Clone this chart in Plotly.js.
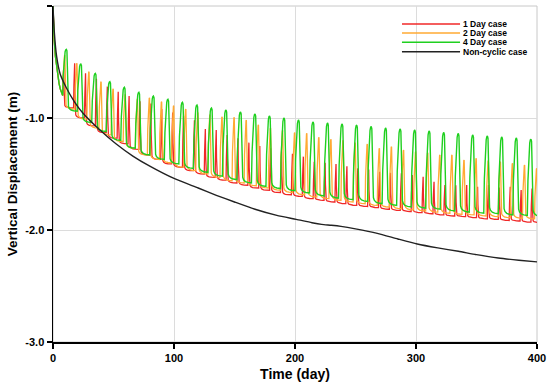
<!DOCTYPE html>
<html>
<head>
<meta charset="utf-8">
<script src="https://cdn.plot.ly/plotly-3.0.1.min.js"></script>
<style>html,body{margin:0;padding:0;background:#fff;}#chart{width:550px;height:388px;}</style>
</head>
<body>
<div id="chart"></div>
<script>
// ---------------- DATA ----------------
const seriesNames = ['1 Day case', '2 Day case', '4 Day case', 'Non-cyclic case'];
const xTickVals = [0, 100, 200, 300, 400];
const yTickVals = [0, -1, -2, -3];
const yTickText = ['0.0', '-1.0', '-2.0', '-3.0'];

// common first loading stage of the cyclic cases (day, displacement)
const startDays = [0, 0.5, 1, 2, 3, 4, 5, 6, 7, 8];
const startVals = [0, -0.2, -0.3, -0.45, -0.55, -0.63, -0.69, -0.74, -0.77, -0.80];

// cycle lengths (days): 8 loaded days + N unloaded days
const loadedDays = 8;
const redPeriod = 9, orangePeriod = 10, greenPeriod = 12;

// peak displacement reached in each cycle
const redPeak = [-0.55,-0.512,-0.601,-0.65,-0.72,-0.765,-0.804,-0.85,-0.87,-0.92,-0.95,-0.98,-1.02,-1.098,-1.107,-1.152,-1.18,-1.22,-1.25,-1.27,-1.30,-1.32,-1.345,-1.39,-1.40,-1.41,-1.43,-1.45,-1.46,-1.48,-1.49,-1.494,-1.51,-1.524,-1.569,-1.598,-1.60,-1.598,-1.613,-1.598,-1.62,-1.613,-1.643,-1.63];
const orangePeak = [-0.44,-0.512,-0.587,-0.676,-0.74,-0.79,-0.83,-0.82,-0.854,-0.89,-0.92,-0.95,-0.97,-0.99,-0.994,-1.018,-1.06,-1.09,-1.11,-1.13,-1.137,-1.172,-1.19,-1.20,-1.22,-1.232,-1.271,-1.256,-1.286,-1.30,-1.31,-1.33,-1.33,-1.375,-1.36,-1.38,-1.39,-1.405,-1.42,-1.45];
const greenPeak = [-0.387,-0.518,-0.601,-0.676,-0.726,-0.771,-0.804,-0.833,-0.860,-0.884,-0.911,-0.929,-0.946,-0.964,-0.982,-1.000,-1.018,-1.036,-1.045,-1.054,-1.063,-1.076,-1.089,-1.098,-1.107,-1.116,-1.129,-1.138,-1.152,-1.161,-1.170,-1.179,-1.188];

// lowest displacement just before each unloading (one more than cycles)
const redTrough = [-0.80,-0.91,-1.00,-1.07,-1.13,-1.18,-1.23,-1.28,-1.33,-1.37,-1.41,-1.44,-1.47,-1.50,-1.53,-1.555,-1.58,-1.60,-1.625,-1.645,-1.665,-1.685,-1.70,-1.72,-1.735,-1.75,-1.765,-1.78,-1.79,-1.80,-1.815,-1.825,-1.835,-1.845,-1.855,-1.865,-1.875,-1.88,-1.89,-1.90,-1.905,-1.915,-1.92,-1.93,-1.935];
const orangeTrough = [-0.80,-0.92,-1.01,-1.09,-1.15,-1.21,-1.27,-1.33,-1.37,-1.40,-1.44,-1.47,-1.50,-1.53,-1.56,-1.58,-1.605,-1.625,-1.645,-1.665,-1.685,-1.705,-1.72,-1.735,-1.75,-1.765,-1.78,-1.795,-1.81,-1.82,-1.83,-1.84,-1.85,-1.86,-1.865,-1.875,-1.88,-1.89,-1.895,-1.90,-1.905];
const greenTrough = [-0.80,-0.94,-1.04,-1.12,-1.20,-1.27,-1.33,-1.37,-1.41,-1.45,-1.485,-1.52,-1.55,-1.58,-1.61,-1.63,-1.65,-1.67,-1.695,-1.715,-1.73,-1.745,-1.765,-1.78,-1.795,-1.805,-1.815,-1.83,-1.84,-1.85,-1.855,-1.865,-1.87,-1.88];

// non-cyclic case
const blackDays = [0, 1, 3, 6, 11, 18, 25, 39, 52, 66, 80, 100, 120, 135, 150, 167, 185, 201, 214, 222, 230, 238, 250, 268, 285, 301, 318, 335, 350, 368, 385, 400];
const blackVals = [0, -0.22, -0.45, -0.61, -0.73, -0.86, -0.96, -1.11, -1.23, -1.34, -1.43, -1.54, -1.625, -1.69, -1.75, -1.815, -1.87, -1.905, -1.935, -1.95, -1.958, -1.968, -1.99, -2.03, -2.08, -2.125, -2.16, -2.19, -2.22, -2.25, -2.27, -2.285];

// ---------------- shape of one unloading/reloading cycle ----------------
// rise: [day offset from unloading start, fraction of (peak - trough)]
// fall: [day offset, fraction of (peak - next trough)]
const profiles = {
  red: {
    rise: [[0,0],[0.3,0.5],[0.6,0.85],[0.9,1]],
    fall: [[1.15,0.45],[1.4,0.15],[1.8,0.06],[2.5,0.03],[4,0.01],[6,0.003],[8,0.0005]]
  },
  orange: {
    rise: [[0,0],[0.3,0.45],[0.7,0.78],[1.1,0.93],[1.5,0.99],[1.8,1]],
    fall: [[2.1,0.6],[2.4,0.2],[2.8,0.07],[3.5,0.04],[5,0.015],[7,0.005],[9,0.001]]
  },
  green: {
    rise: [[0,0],[0.5,0.45],[1,0.72],[1.5,0.87],[2,0.95],[2.5,0.99],[3,1],[3.5,0.97]],
    fall: [[4,0.55],[4.4,0.2],[4.8,0.08],[5.5,0.045],[7,0.02],[9,0.008],[11,0.002]]
  }
};

function buildCyclic(period, peaks, troughs, prof) {
  const x = startDays.slice(), y = startVals.slice();
  for (let k = 0; k < peaks.length; k++) {
    const r = period * k + loadedDays;
    const T = troughs[k], H = peaks[k], Tn = troughs[k + 1];
    prof.rise.forEach(([dt, f]) => { x.push(r + dt); y.push(T + f * (H - T)); });
    prof.fall.forEach(([dt, g]) => { x.push(r + dt); y.push(Tn + g * (H - Tn)); });
  }
  return {x, y};
}

const red = buildCyclic(redPeriod, redPeak, redTrough, profiles.red);
const orange = buildCyclic(orangePeriod, orangePeak, orangeTrough, profiles.orange);
const green = buildCyclic(greenPeriod, greenPeak, greenTrough, profiles.green);

const colors = ['#f02828', '#ffaa33', '#1fd01f', '#222222'];

const traces = [
  {x: red.x, y: red.y, name: seriesNames[0], mode: 'lines', line: {color: colors[0], width: 1.3}},
  {x: orange.x, y: orange.y, name: seriesNames[1], mode: 'lines', line: {color: colors[1], width: 1.3}},
  {x: green.x, y: green.y, name: seriesNames[2], mode: 'lines', line: {color: colors[2], width: 1.4}},
  {x: blackDays, y: blackVals, name: seriesNames[3], mode: 'lines', line: {color: colors[3], width: 1.4, shape: 'spline', smoothing: 0.6}}
];

// manual compact legend (top right, inside plot)
const legY = [0.9464, 0.9196, 0.8920, 0.8640];
const shapes = [
  {type: 'rect', xref: 'paper', yref: 'paper', x0: 0, x1: 1, y0: 0, y1: 1, line: {color: '#c8c8c8', width: 1}, layer: 'below'}
];
const annotations = [];
seriesNames.forEach((n, i) => {
  shapes.push({type: 'line', xref: 'paper', yref: 'paper', x0: 0.721, x1: 0.841, y0: legY[i], y1: legY[i], line: {color: colors[i], width: 1.5}});
  annotations.push({xref: 'paper', yref: 'paper', x: 0.843, y: legY[i], xanchor: 'left', yanchor: 'middle', text: '<b>' + n + '</b>', showarrow: false, font: {size: 8.5, color: '#000', family: 'Liberation Sans, Arial, sans-serif'}});
});

const layout = {
  width: 550, height: 388,
  margin: {l: 53, r: 13, t: 6, b: 46},
  paper_bgcolor: '#ffffff', plot_bgcolor: '#ffffff',
  showlegend: false,
  font: {family: 'Liberation Sans, Arial, sans-serif', color: '#000'},
  xaxis: {
    range: [0, 400], tickvals: xTickVals, ticktext: xTickVals.map(v => '<b>' + v + '</b>'),
    ticks: 'outside', ticklen: 5, tickwidth: 1.5, tickcolor: '#000',
    showline: true, linecolor: '#000', linewidth: 1.5,
    showgrid: true, gridcolor: '#dcdcdc', gridwidth: 1, zeroline: false,
    tickfont: {size: 11, color: '#000'},
    title: {text: '<b>Time (day)</b>', font: {size: 14, color: '#000'}, standoff: 6}
  },
  yaxis: {
    range: [-3, 0], tickvals: yTickVals, ticktext: yTickText.map(t => '<b>' + t + '</b>'),
    ticks: 'outside', ticklen: 5, tickwidth: 1.5, tickcolor: '#000',
    showline: true, linecolor: '#000', linewidth: 1.5,
    showgrid: true, gridcolor: '#dcdcdc', gridwidth: 1, zeroline: false,
    tickfont: {size: 11, color: '#000'},
    title: {text: '<b>Vertical Displacement (m)</b>', font: {size: 13.5, color: '#000'}, standoff: 4}
  },
  shapes: shapes,
  annotations: annotations
};

Plotly.newPlot('chart', traces, layout, {staticPlot: true, displayModeBar: false});
</script>
</body>
</html>
